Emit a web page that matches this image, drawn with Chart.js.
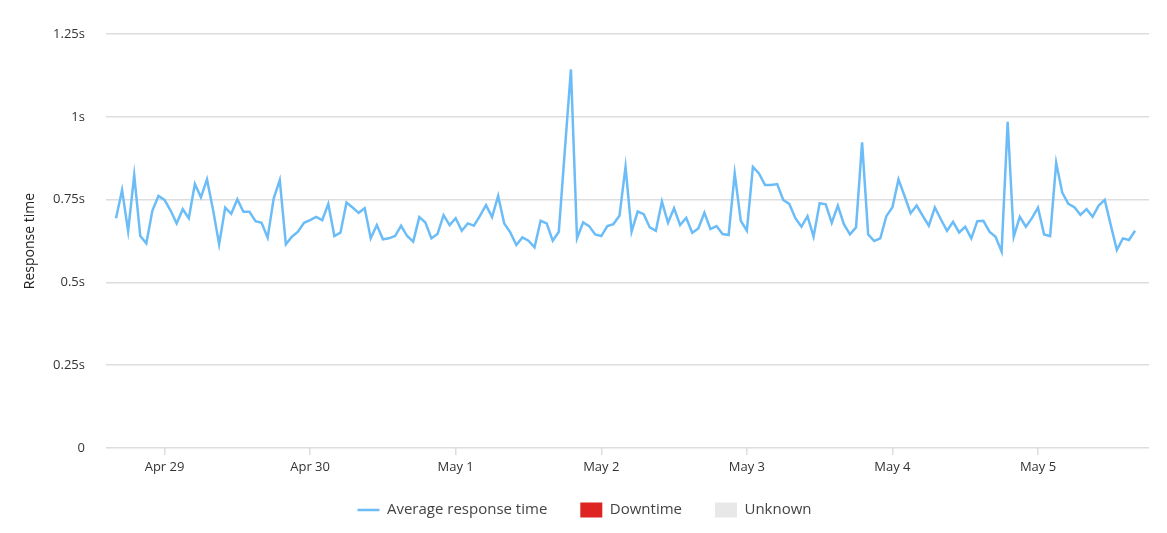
<!DOCTYPE html>
<html>
<head>
<meta charset="utf-8">
<title>Response time</title>
<script src="https://cdn.jsdelivr.net/npm/chart.js@4/dist/chart.umd.min.js"></script>
<style>
  html, body { margin: 0; padding: 0; background: #fff; }
  #wrap { width: 1167px; height: 533px; position: relative; }
</style>
</head>
<body>
<div id="wrap"><canvas id="responseChart"></canvas></div>
<script>
// hourly samples, first one is Apr 28 16:00 (hour 0)
const responseTimes = [
  0.694, 0.779, 0.655, 0.824, 0.640, 0.618, 0.717, 0.761, 0.749, 0.717, 0.678, 0.721, 0.694, 0.797, 0.757,
  0.811, 0.719, 0.615, 0.726, 0.707, 0.751, 0.713, 0.713, 0.685, 0.680, 0.635, 0.754, 0.809, 0.615,
  0.638, 0.653, 0.680, 0.688, 0.698, 0.688, 0.737, 0.640, 0.650, 0.741, 0.726, 0.710, 0.724, 0.633,
  0.673, 0.630, 0.633, 0.640, 0.671, 0.640, 0.623, 0.697, 0.681, 0.633, 0.646, 0.703, 0.673, 0.694,
  0.656, 0.678, 0.671, 0.701, 0.733, 0.697, 0.761, 0.678, 0.651, 0.613, 0.636, 0.626, 0.606, 0.686,
  0.678, 0.626, 0.653, 0.900, 1.143, 0.633, 0.681, 0.670, 0.645, 0.640, 0.670, 0.676, 0.701, 0.849, 0.653,
  0.714, 0.706, 0.666, 0.656, 0.744, 0.680, 0.724, 0.673, 0.695, 0.650, 0.663, 0.710, 0.661, 0.670,
  0.646, 0.643, 0.829, 0.686, 0.656, 0.849, 0.829, 0.794, 0.794, 0.797, 0.749, 0.737, 0.694, 0.668, 0.700,
  0.638, 0.739, 0.736, 0.680, 0.732, 0.676, 0.645, 0.666, 0.923, 0.645, 0.625, 0.633, 0.700, 0.727,
  0.811, 0.761, 0.709, 0.732, 0.701, 0.671, 0.726, 0.690, 0.656, 0.683, 0.651, 0.668, 0.633, 0.685, 0.686,
  0.653, 0.638, 0.593, 0.985, 0.638, 0.698, 0.668, 0.694, 0.726, 0.645, 0.640, 0.861, 0.771, 0.737,
  0.727, 0.704, 0.721, 0.698, 0.732, 0.749, 0.673, 0.598, 0.633, 0.628, 0.656
];
const dayTickHours = [8, 32, 56, 80, 104, 128, 152];
const dayLabels = ['Apr 29', 'Apr 30', 'May 1', 'May 2', 'May 3', 'May 4', 'May 5'];
const yTickValues = [0, 0.25, 0.5, 0.75, 1, 1.25];
const yTickLabels = ['0', '0.25s', '0.5s', '0.75s', '1s', '1.25s'];

const fontFamily = '"Open Sans", "Noto Sans", sans-serif';
Chart.defaults.font.family = fontFamily;
Chart.defaults.color = '#333';

// legend padding is wide for horizontal spacing, pull the row back up under the axis
// and center it on the whole canvas rather than the padded box
const legendNudge = {
  id: 'legendNudge',
  afterLayout(chart) {
    const lg = chart.legend;
    if (!lg) return;
    const lab = lg.options.labels;
    const h = lg.height;
    lg.top = 510 - lab.padding - lab.font.size / 2;
    lg.bottom = lg.top + h;
    lg.left = 0;
    lg.right = chart.width + 2;
  }
};

const ctx = document.getElementById('responseChart').getContext('2d');

const chart = new Chart(ctx, {
  type: 'line',
  data: {
    datasets: [{
      label: 'Average response time',
      data: responseTimes.map((v, i) => ({ x: i, y: v })),
      borderColor: '#6cbdf7',
      backgroundColor: '#6cbdf7',
      borderWidth: 2.5,
      pointRadius: 0,
      pointStyle: 'line',
      tension: 0
    }, {
      label: 'Downtime',
      data: [],
      backgroundColor: '#de2323',
      borderColor: '#de2323',
      borderWidth: 0,
      pointStyle: 'rect'
    }, {
      label: 'Unknown',
      data: [],
      backgroundColor: '#e8e8e8',
      borderColor: '#e8e8e8',
      borderWidth: 0,
      pointStyle: 'rect'
    }]
  },
  options: {
    responsive: true,
    maintainAspectRatio: false,
    animation: false,
    layout: { padding: { top: 34, right: 18, bottom: 5, left: 0 } },
    plugins: {
      tooltip: { enabled: false },
      legend: {
        position: 'bottom',
        maxHeight: 50,
        labels: {
          usePointStyle: true,
          pointStyleWidth: 22,
          boxHeight: 16,
          padding: 33,
          color: '#444',
          font: { size: 15 }
        }
      }
    },
    scales: {
      x: {
        type: 'linear',
        min: -1.65,
        max: 170.3,
        afterBuildTicks: (scale) => {
          scale.ticks = dayTickHours.map(h => ({ value: h }));
        },
        afterFit: (scale) => { scale.height = 30; },
        ticks: {
          autoSkip: false,
          maxRotation: 0,
          padding: 4,
          color: '#333',
          font: { size: 13 },
          callback: (value, index) => dayLabels[index]
        },
        grid: {
          drawOnChartArea: false,
          drawTicks: true,
          tickLength: 7,
          color: '#dddddd',
          lineWidth: 1.5
        },
        border: { display: false }
      },
      y: {
        min: 0,
        max: 1.25,
        afterBuildTicks: (scale) => {
          scale.ticks = yTickValues.map(v => ({ value: v }));
        },
        afterFit: (scale) => { scale.width = 106; },
        ticks: {
          padding: 21,
          color: '#333',
          font: { size: 13 },
          callback: (value, index) => yTickLabels[index]
        },
        grid: {
          drawTicks: false,
          color: '#dddddd',
          lineWidth: 1.5
        },
        border: { display: false },
        title: {
          display: true,
          text: 'Response time',
          color: '#222',
          font: { size: 14 },
          padding: { top: 22, bottom: 0 }
        }
      }
    }
  },
  plugins: [legendNudge]
});
</script>
</body>
</html>
